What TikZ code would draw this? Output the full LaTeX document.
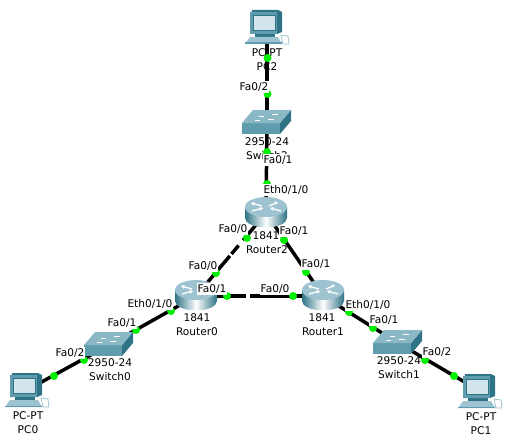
\documentclass[tikz,border=0pt]{standalone}
\usepackage{fontspec}
\setmainfont{DejaVu Sans}
\usepackage{xcolor}
\usetikzlibrary{arrows.meta}
\definecolor{teal1}{HTML}{5F9DAE}
\definecolor{teal2}{HTML}{2F7486}
\definecolor{teal3}{HTML}{9CC3CF}
\definecolor{screen1}{HTML}{D3E5EC}
\definecolor{light1}{HTML}{00F000}
\tikzset{
  devlabel/.style={font=\fontsize{10.6}{12}\selectfont, inner sep=0pt},
  portlabel/.style={font=\fontsize{10.6}{12}\selectfont, fill=white, inner xsep=0.5pt, inner ysep=1.5pt},
  link/.style={line width=3.5pt, black},
  port/.style={circle, fill=light1, inner sep=0pt, minimum size=8pt},
  dev/.style={inner sep=0pt, minimum size=2pt},
  pcicon/.pic={
    \fill[teal2] (-15,-17) -- (11,-17) -- (15,-15) -- (15,5) -- (10,7) -- (-17,7) -- cycle;
    \fill[teal1] (-17,-15) -- (10,-15) -- (10,7) -- (-17,7) -- cycle;
    \fill[screen1, draw=teal2, line width=0.5pt] (-14,-12) rectangle (8,3);
    \fill[teal2] (-12,7) rectangle (8,10);
    \fill[teal3] (-17,10) -- (11,10) -- (15,17) -- (-22,17) -- cycle;
    \fill[teal1] (-22,15.5) rectangle (15,17);
    \draw[teal3, line width=0.8pt, fill=white] (14,8) -- (21,9) -- (22,17) -- (16,17) -- cycle;
  },
  switchicon/.pic={
    \fill[teal2] (24,-13) -- (24,-2) -- (13,11) -- (13,0) -- cycle;
    \fill[teal1] (-25,0) rectangle (13,11);
    \fill[teal3!70!teal1] (-14,-13) -- (24,-13) -- (13,0) -- (-25,0) -- cycle;
    \draw[white, line width=1pt] (-8,-7) -- (-3,-7) (5,-9) -- (11,-9) (-12,-3) -- (-7,-3) (1,-4) -- (7,-4);
  },
  routericon/.pic={
    \shade[left color=teal2, right color=teal2, middle color=white]
      (-21,-6) -- (-21,5) arc (180:0:21 and 9.5) -- (21,-6) -- cycle;
    \fill[teal3] (0,-6) ellipse (21 and 10);
    \draw[white, line width=1.3pt, -{Stealth[length=3.5pt,width=4pt]}] (-4,-7) -- (-15,-10);
    \draw[white, line width=1.3pt, -{Stealth[length=3.5pt,width=4pt]}] (3,-7) -- (12,-11);
    \draw[white, line width=1.3pt, -{Stealth[length=3.5pt,width=4pt]}] (-14,-2) -- (-3,-5);
    \draw[white, line width=1.3pt, -{Stealth[length=3.5pt,width=4pt]}] (15,-2) -- (4,-5);
  },
}
\begin{document}
\begin{tikzpicture}[x=1pt,y=-1pt]
  \useasboundingbox (0,0) rectangle (510,441);

  % Devices
  \node[dev] (PC2) at (267,27) {};
  \node[dev] (Switch2) at (267,123) {};
  \node[dev] (Router2) at (266,213) {};
  \node[dev] (Router0) at (196,296) {};
  \node[dev] (Router1) at (323,296) {};
  \node[dev] (Switch0) at (109,345) {};
  \node[dev] (Switch1) at (398,343) {};
  \node[dev] (PC0) at (27,390) {};
  \node[dev] (PC1) at (480,391) {};

  % Device labels
  \node[devlabel] (PC2type) at (267,53) {PC-PT};
  \node[devlabel] (PC2name) at (267,67) {PC2};
  \node[devlabel] (Switch2type) at (267,142) {2950-24};
  \node[devlabel] (Switch2name) at (267,156) {Switch2};
  \node[devlabel] (Router2type) at (266,236) {1841};
  \node[devlabel] (Router2name) at (267,250) {Router2};
  \node[devlabel] (Router0type) at (197,318) {1841};
  \node[devlabel] (Router0name) at (197,332) {Router0};
  \node[devlabel] (Router1type) at (322,318) {1841};
  \node[devlabel] (Router1name) at (323,332) {Router1};
  \node[devlabel] (Switch0type) at (110,363) {2950-24};
  \node[devlabel] (Switch0name) at (110,377) {Switch0};
  \node[devlabel] (Switch1type) at (399,361) {2950-24};
  \node[devlabel] (Switch1name) at (399,375) {Switch1};
  \node[devlabel] (PC0type) at (28,416) {PC-PT};
  \node[devlabel] (PC0name) at (28,430) {PC0};
  \node[devlabel] (PC1type) at (481,417) {PC-PT};
  \node[devlabel] (PC1name) at (481,431) {PC1};

  % Links
  \draw[link] (PC2) -- (Switch2);
  \draw[link] (Switch2) -- (Router2);
  \draw[link, dash pattern=on 34pt off 7pt on 11pt off 2.5pt on 70pt] (Router2) -- (Router0);
  \draw[link] (Router2) -- (Router1);
  \draw[link, dash pattern=on 49pt off 4pt on 90pt] (Router0) -- (Router1);
  \draw[link] (Router0) -- (Switch0);
  \draw[link] (Switch0) -- (PC0);
  \draw[link] (Router1) -- (Switch1);
  \draw[link] (Switch1) -- (PC1);

  % Icons
  \pic at (PC2) {pcicon};
  \pic at (Switch2) {switchicon};
  \pic at (Router2) {routericon};
  \pic at (Router0) {routericon};
  \pic at (Router1) {routericon};
  \pic at (Switch0) {switchicon};
  \pic at (Switch1) {switchicon};
  \pic at (PC0) {pcicon};
  \pic at (PC1) {pcicon};

  % Link lights
  \node[port] (p1) at (267.5,58) {};
  \node[port] (p2) at (267.5,94) {};
  \node[port] (p3) at (267,152) {};
  \node[port] (p4) at (267,184) {};
  \node[port] (p5) at (247,238) {};
  \node[port] (p6) at (284,240) {};
  \node[port] (p7) at (216,273) {};
  \node[port] (p8) at (306,272) {};
  \node[port] (p9) at (227,296) {};
  \node[port] (p10) at (293,296) {};
  \node[port] (p11) at (171,311) {};
  \node[port] (p12) at (136,330) {};
  \node[port] (p13) at (84,360) {};
  \node[port] (p14) at (54,376) {};
  \node[port] (p15) at (349,312) {};
  \node[port] (p16) at (373,328) {};
  \node[port] (p17) at (425,360) {};
  \node[port] (p18) at (454,376) {};

  % Port labels
  \node[portlabel] (l1) at (254,87) {Fa0/2};
  \node[portlabel] (l2) at (278,160) {Fa0/1};
  \node[portlabel] (l3) at (286,190) {Eth0/1/0};
  \node[portlabel] (l4) at (233,229) {Fa0/0};
  \node[portlabel] (l5) at (294,231) {Fa0/1};
  \node[portlabel] (l6) at (203,266) {Fa0/0};
  \node[portlabel] (l7) at (316,264) {Fa0/1};
  \node[portlabel] (l8) at (212,289) {Fa0/1};
  \node[portlabel] (l9) at (275,289) {Fa0/0};
  \node[portlabel] (l10) at (150,304) {Eth0/1/0};
  \node[portlabel] (l11) at (122,323) {Fa0/1};
  \node[portlabel] (l12) at (70,353) {Fa0/2};
  \node[portlabel] (l13) at (368,305) {Eth0/1/0};
  \node[portlabel] (l14) at (384,320) {Fa0/1};
  \node[portlabel] (l15) at (437,352) {Fa0/2};
\end{tikzpicture}
\end{document}
